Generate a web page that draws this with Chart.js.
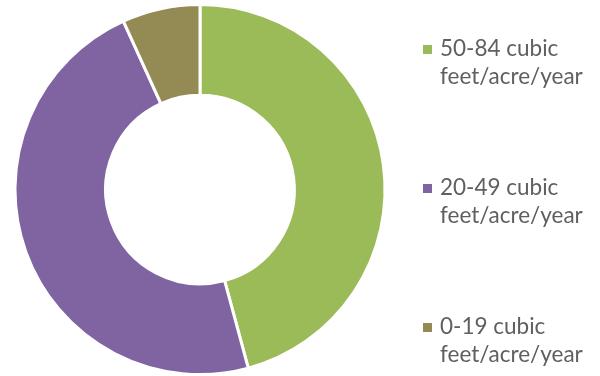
<!DOCTYPE html>
<html>
<head>
<meta charset="utf-8">
<script src="https://cdn.jsdelivr.net/npm/chart.js@4/dist/chart.umd.min.js"></script>
<style>
    html, body { margin: 0; padding: 0; background: #ffffff; }
    #wrap { width: 600px; height: 376px; position: relative; }
</style>
</head>
<body>
<div id="wrap"><canvas id="myDonut" width="600" height="376"></canvas></div>
<script>
// categories (two lines each, as in the original legend)
var categories = [
    ['50-84 cubic', 'feet/acre/year'],
    ['20-49 cubic', 'feet/acre/year'],
    ['0-19 cubic', 'feet/acre/year']
];
// share of the ring, percent
var shares = [45.8, 47.4, 6.8];
var colors = ['#9BBB59', '#8064A2', '#948A54'];

// legend drawn by hand so the labels can wrap on two lines
var sideLegend = {
    id: 'sideLegend',
    afterDraw: function(chart) {
        var ctx = chart.ctx;
        var labels = chart.data.labels;
        var bg = chart.data.datasets[0].backgroundColor;
        ctx.save();
        ctx.font = '22.5px Lato';
        ctx.textBaseline = 'alphabetic';
        ctx.textAlign = 'left';
        for (var i = 0; i < labels.length; i++) {
            var top = 56 + i * 139;
            ctx.fillStyle = bg[i];
            ctx.fillRect(423, top - 11, 9, 9);
            ctx.fillStyle = '#5f5f5f';
            for (var j = 0; j < labels[i].length; j++) {
                ctx.fillText(labels[i][j], 440, top + j * 28);
            }
        }
        ctx.restore();
    }
};

var ctx = document.getElementById('myDonut').getContext('2d');
var myDonut = new Chart(ctx, {
    type: 'doughnut',
    data: {
        labels: categories,
        datasets: [{
            data: shares,
            backgroundColor: colors,
            borderColor: '#ffffff',
            borderWidth: 3
        }]
    },
    options: {
        responsive: false,
        animation: false,
        cutout: '51%',
        layout: {
            padding: { left: 13, right: 213, top: 3, bottom: 0 }
        },
        plugins: {
            legend: { display: false },
            tooltip: { enabled: false }
        }
    },
    plugins: [sideLegend]
});
</script>
</body>
</html>
